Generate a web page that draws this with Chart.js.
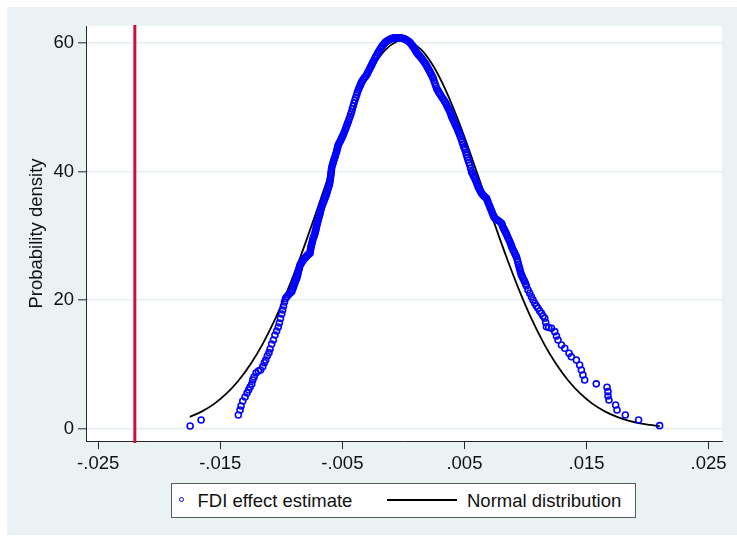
<!DOCTYPE html>
<html><head><meta charset="utf-8">
<script src="https://cdn.jsdelivr.net/npm/chart.js@4.4.1/dist/chart.umd.min.js"></script>
<style>
html,body{margin:0;padding:0;background:#fff;}
#wrap{position:relative;width:737px;height:540px;overflow:hidden;}
#c{position:absolute;left:0;top:0;}
#legend{position:absolute;left:171px;top:483px;width:465px;height:35px;box-sizing:border-box;border:1px solid #595959;background:#fff;}
.lt{position:absolute;top:6px;font-family:"Liberation Sans",Arial,sans-serif;font-size:18.5px;line-height:21px;color:#111;white-space:nowrap;}
.dot{position:absolute;width:3px;height:3px;border:1.4px solid #0000ff;border-radius:50%;}
.ln{position:absolute;height:2px;background:#000;}
</style></head>
<body>
<div id="wrap">
<canvas id="c" width="737" height="540"></canvas>
<div id="legend">
  <span class="dot" style="left:7px;top:13px;"></span>
  <span class="lt" id="lg1" style="left:25.5px;"></span>
  <span class="ln" style="left:215px;top:15px;width:70px;"></span>
  <span class="lt" id="lg2" style="left:295px;"></span>
</div>
</div>
<script>
// ---- data ----
const seriesNames = ['FDI effect estimate', 'Normal distribution'];
const yAxisTitle = 'Probability density';
const xTickValues = [-0.025, -0.015, -0.005, 0.005, 0.015, 0.025];
const xTickLabels = ['-.025', '-.015', '-.005', '.005', '.015', '.025'];
const yTickValues = [0, 20, 40, 60];
const yTickLabels = ['0', '20', '40', '60'];
const refLineX = -0.022;
const refLineY = [-2.26, 62.8];

// Normal distribution curve
const normalX = [-0.0175,-0.0165,-0.0155,-0.0145,-0.0135,-0.0125,-0.0115,-0.0105,-0.0095,-0.0085,
  -0.0075,-0.0065,-0.0055,-0.0045,-0.0035,-0.0025,-0.0015,-0.0005,0.0000,0.0005,
  0.0015,0.0025,0.0035,0.0045,0.0055,0.0065,0.0075,0.0085,0.0095,0.0105,
  0.0115,0.0125,0.0135,0.0145,0.0155,0.0165,0.0175,0.0185,0.0195,0.0205,0.0210];
const normalY = [1.80,2.66,3.83,5.41,7.46,10.06,13.25,17.05,21.46,26.38,
  31.69,37.22,42.72,47.91,52.52,56.27,58.90,60.28,60.45,60.28,
  58.90,56.27,52.52,47.91,42.72,37.22,31.69,26.38,21.46,17.05,
  13.25,10.06,7.46,5.41,3.83,2.66,1.80,1.19,0.77,0.49,0.38];

// FDI effect estimates (x) and their density (y)
const fdiX = [-0.01747,-0.01657,-0.01352,-0.01338,-0.01330,-0.01316,-0.01297,-0.01281,-0.01268,-0.01256,
  -0.01242,-0.01234,-0.01223,-0.01207,-0.01188,-0.01170,-0.01152,-0.01139,-0.01128,-0.01115,
  -0.01101,-0.01092,-0.01079,-0.01065,-0.01052,-0.01038,-0.01025,-0.01016,-0.01007,-0.00997,
  -0.00989,-0.00982,-0.00974,-0.00966,-0.00943,-0.00915,-0.00904,-0.00896,-0.00885,-0.00874,
  -0.00867,-0.00861,-0.00853,-0.00847,-0.00833,-0.00820,-0.00806,-0.00792,-0.00779,-0.00765,
  -0.00761,-0.00757,-0.00749,-0.00743,-0.00734,-0.00724,-0.00718,-0.00712,-0.00705,-0.00698,
  -0.00691,-0.00683,-0.00677,-0.00669,-0.00659,-0.00648,-0.00638,-0.00628,-0.00618,-0.00607,
  -0.00601,-0.00596,-0.00592,-0.00588,-0.00579,-0.00569,-0.00558,-0.00547,-0.00540,-0.00534,
  -0.00520,-0.00506,-0.00493,-0.00479,-0.00465,-0.00452,-0.00438,-0.00424,-0.00411,-0.00397,
  -0.00383,-0.00370,-0.00356,-0.00342,-0.00322,-0.00301,-0.00288,-0.00274,-0.00260,-0.00247,
  -0.00233,-0.00219,-0.00199,-0.00178,-0.00160,-0.00143,-0.00124,-0.00105,-0.00086,-0.00070,
  -0.00049,-0.00029,-0.00008,0.00012,0.00029,0.00047,0.00064,0.00080,0.00097,0.00113,
  0.00131,0.00149,0.00166,0.00184,0.00200,0.00217,0.00231,0.00244,0.00258,0.00272,
  0.00288,0.00304,0.00326,0.00348,0.00364,0.00381,0.00394,0.00408,0.00424,0.00440,
  0.00454,0.00468,0.00481,0.00495,0.00506,0.00517,0.00530,0.00544,0.00558,0.00571,
  0.00585,0.00599,0.00612,0.00626,0.00640,0.00659,0.00681,0.00694,0.00708,0.00722,
  0.00735,0.00749,0.00776,0.00804,0.00817,0.00831,0.00844,0.00858,0.00872,0.00885,
  0.00899,0.00912,0.00926,0.00937,0.00948,0.00957,0.00967,0.00980,0.00994,0.01008,
  0.01021,0.01035,0.01049,0.01062,0.01076,0.01090,0.01103,0.01117,0.01131,0.01144,
  0.01158,0.01166,0.01172,0.01191,0.01213,0.01240,0.01254,0.01267,0.01295,0.01322,
  0.01357,0.01376,0.01417,0.01444,0.01458,0.01471,0.01485,0.01580,0.01668,0.01676,
  0.01676,0.01684,0.01739,0.01750,0.01818,0.01927,0.02099,
  -0.00955,-0.00929,-0.00910,-0.00900,-0.00891,-0.00880,
  -0.00871,-0.00864,-0.00857,-0.00850,-0.00840,-0.00827,-0.00813,-0.00799,-0.00786,-0.00772,
  -0.00763,-0.00759,-0.00753,-0.00746,-0.00739,-0.00729,-0.00721,-0.00715,-0.00709,-0.00702,
  -0.00695,-0.00687,-0.00680,-0.00673,-0.00664,-0.00654,-0.00643,-0.00633,-0.00623,-0.00613,
  -0.00604,-0.00599,-0.00594,-0.00590,-0.00584,-0.00574,-0.00564,-0.00553,-0.00544,-0.00537,
  -0.00527,-0.00513,-0.00500,-0.00486,-0.00472,-0.00459,-0.00445,-0.00431,-0.00418,-0.00404,
  -0.00390,-0.00377,-0.00363,-0.00349,-0.00332,-0.00312,-0.00295,-0.00281,-0.00267,-0.00254,
  -0.00240,-0.00226,-0.00209,-0.00189,-0.00169,-0.00152,-0.00134,-0.00115,-0.00096,-0.00078,
  -0.00060,-0.00039,-0.00019,0.00002,0.00021,0.00038,0.00056,0.00072,0.00089,0.00105,
  0.00122,0.00140,0.00158,0.00175,0.00192,0.00209,0.00224,0.00238,0.00251,0.00265,
  0.00280,0.00296,0.00315,0.00337,0.00356,0.00373,0.00388,0.00401,0.00416,0.00432,
  0.00447,0.00461,0.00475,0.00488,0.00501,0.00512,0.00524,0.00537,0.00551,0.00565,
  0.00578,0.00592,0.00606,0.00619,0.00633,0.00650,0.00670,0.00688,0.00701,0.00715,
  0.00729,0.00742,0.00763,0.00790,0.00811,0.00824,0.00838,0.00851,0.00865,0.00879,
  0.00892,0.00906,0.00919,0.00932,0.00943,0.00953,0.00962,0.00974,0.00987,0.01001];
const fdiY = [0.39,1.32,2.10,2.88,3.50,4.28,4.90,5.53,5.99,6.46,
  6.93,7.55,8.02,8.64,8.95,9.10,9.62,10.24,10.66,11.28,
  11.80,12.37,13.15,13.77,14.55,15.18,15.80,16.42,17.12,17.82,
  18.44,19.07,19.69,20.23,20.78,21.29,21.87,22.33,22.88,23.38,
  23.89,24.40,24.93,25.45,25.84,26.23,26.54,26.85,27.08,27.27,
  27.78,28.30,28.82,29.34,29.85,30.38,30.89,31.41,31.94,32.45,
  32.96,33.49,34.01,34.52,35.05,35.56,36.08,36.61,37.28,37.90,
  38.52,39.19,39.84,40.50,41.17,41.79,42.41,43.08,43.66,44.12,
  44.64,45.17,45.68,46.38,47.08,47.75,48.53,49.31,50.19,51.13,
  51.91,52.68,53.34,53.98,54.50,55.02,55.53,56.06,56.58,57.09,
  57.62,58.13,58.79,59.42,59.84,60.20,60.42,60.62,60.73,60.82,
  60.82,60.82,60.73,60.62,60.42,60.20,59.84,59.42,58.91,58.40,
  58.01,57.62,57.15,56.68,56.11,55.53,55.02,54.50,53.73,52.95,
  52.43,51.91,51.28,50.61,49.96,49.31,48.64,48.01,47.36,46.72,
  46.07,45.41,44.64,43.86,43.35,42.57,41.79,41.01,39.97,39.45,
  38.94,38.29,37.63,37.12,36.61,36.19,35.83,35.17,34.52,33.85,
  33.23,32.71,32.37,31.94,31.28,30.77,30.27,29.65,29.07,28.40,
  27.78,27.27,26.74,25.96,25.18,24.51,23.89,23.38,22.85,22.18,
  21.56,21.04,20.51,20.00,19.49,19.07,18.71,18.29,17.93,17.51,
  17.15,16.49,15.84,15.72,15.60,15.07,14.40,13.77,13.00,12.48,
  11.70,11.17,10.66,9.88,9.10,8.33,7.55,6.95,6.41,5.73,
  5.06,4.44,3.66,2.88,2.10,1.32,0.44,
  20.51,21.04,21.58,22.10,22.61,23.13,
  23.64,24.15,24.67,25.19,25.65,26.04,26.39,26.70,26.97,27.18,
  27.53,28.04,28.56,29.08,29.60,30.12,30.64,31.15,31.68,32.20,
  32.71,33.23,33.75,34.27,34.79,35.31,35.82,36.35,36.95,37.59,
  38.21,38.86,39.52,40.17,40.84,41.48,42.10,42.75,43.37,43.89,
  44.38,44.91,45.43,46.03,46.73,47.42,48.14,48.92,49.75,50.66,
  51.52,52.30,53.01,53.66,54.24,54.76,55.28,55.80,56.32,56.84,
  57.36,57.88,58.46,59.11,59.63,60.02,60.31,60.52,60.68,60.78,
  60.82,60.82,60.78,60.68,60.52,60.31,60.02,59.63,59.17,58.66,
  58.21,57.82,57.39,56.92,56.40,55.82,55.28,54.76,54.12,53.34,
  52.69,52.17,51.60,50.95,50.29,49.64,48.98,48.33,47.69,47.04,
  46.40,45.74,45.03,44.25,43.61,42.96,42.18,41.40,40.49,39.71,
  39.20,38.62,37.96,37.38,36.87,36.40,36.01,35.50,34.85,34.19,
  33.54,32.97,32.54,32.16,31.61,31.03,30.52,29.96,29.36,28.74,
  28.09,27.53,27.01,26.35,25.57,24.85,24.20,23.64,23.12,22.52];

// ---- chart ----
document.getElementById('lg1').textContent = seriesNames[0];
document.getElementById('lg2').textContent = seriesNames[1];

const FONT = {family: '"Liberation Sans", Arial, sans-serif', size: 18.5};
const TXT = '#111';
const AXIS = '#262626';

const bgPlugin = {
  id: 'bg',
  beforeDraw(chart) {
    const {ctx, chartArea: a} = chart;
    ctx.save();
    ctx.fillStyle = '#ffffff';
    ctx.fillRect(0, 0, chart.width, chart.height);
    ctx.fillStyle = '#eaf2f3';
    ctx.fillRect(7, 7, chart.width - 7, chart.height - 12);
    ctx.fillStyle = '#ffffff';
    ctx.fillRect(a.left, a.top, a.right - a.left, a.bottom - a.top);
    ctx.restore();
  }
};

new Chart(document.getElementById('c'), {
  type: 'scatter',
  data: {
    datasets: [
      {
        type: 'line',
        label: seriesNames[1],
        data: normalX.map((x, i) => ({x: x, y: normalY[i]})),
        borderColor: '#000000',
        borderWidth: 1.8,
        pointRadius: 0,
        fill: false,
        cubicInterpolationMode: 'monotone',
        order: 2
      },
      {
        type: 'scatter',
        label: seriesNames[0],
        data: fdiX.map((x, i) => ({x: x, y: fdiY[i]})),
        pointStyle: 'circle',
        pointRadius: 3,
        borderWidth: 1.6,
        borderColor: '#0000ff',
        backgroundColor: 'rgba(0,0,0,0)',
        order: 1
      },
      {
        type: 'line',
        label: 'ref',
        data: [{x: refLineX, y: refLineY[0]}, {x: refLineX, y: refLineY[1]}],
        borderColor: '#c8143c',
        borderWidth: 3,
        pointRadius: 0,
        fill: false,
        clip: false,
        order: 3
      }
    ]
  },
  options: {
    responsive: false,
    animation: false,
    devicePixelRatio: 1,
    layout: {padding: {left: 0, top: 26, right: 15, bottom: 59}},
    plugins: {legend: {display: false}, tooltip: {enabled: false}},
    scales: {
      x: {
        type: 'linear',
        min: -0.0260,
        max: 0.0261,
        afterBuildTicks: s => { s.ticks = xTickValues.map(v => ({value: v})); },
        afterFit: s => { s.height = 40; s.paddingLeft = 0; s.paddingRight = 0; },
        ticks: {
          callback: (v, i) => xTickLabels[i],
          font: FONT, color: TXT, padding: 4, autoSkip: false, maxRotation: 0
        },
        grid: {drawOnChartArea: false, drawTicks: true, tickLength: 8, tickColor: AXIS, tickWidth: 1},
        border: {display: true, color: AXIS, width: 1}
      },
      y: {
        type: 'linear',
        min: -1.95,
        max: 62.65,
        afterBuildTicks: s => { s.ticks = yTickValues.map(v => ({value: v})); },
        afterFit: s => { s.width = 86; s.paddingTop = 0; s.paddingBottom = 0; },
        ticks: {
          callback: (v, i) => yTickLabels[i],
          font: FONT, color: TXT, padding: 4
        },
        grid: {color: '#e5eef1', lineWidth: 1.6, drawTicks: true, tickLength: 8, tickColor: AXIS, tickWidth: 1},
        border: {display: true, color: AXIS, width: 1},
        title: {display: true, text: yAxisTitle, font: FONT, color: TXT, padding: {top: 26, bottom: 0}}
      }
    }
  },
  plugins: [bgPlugin]
});
</script>
</body></html>
